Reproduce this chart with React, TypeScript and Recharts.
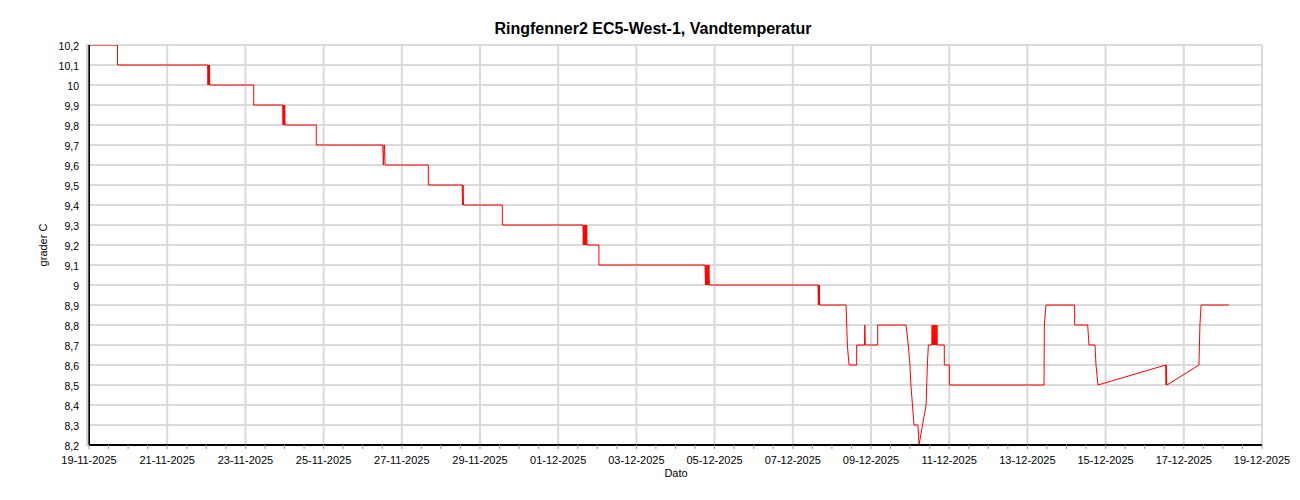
import { LineChart, Line, XAxis, YAxis, CartesianGrid } from 'recharts';

// hours after 19-11-2025 00:00
const hours = [
  0, 17.5, 17.5,
  72.9, 73.0, 73.2, 73.4, 73.6, 73.8, 74.0, 74.1,
  101.1, 101.1,
  118.9, 119.1, 119.3, 119.5, 119.7, 119.9, 120.1, 120.3,
  139.5, 139.5,
  180.3, 180.7, 181.1, 181.4, 181.7,
  208.3, 208.3,
  229.0, 229.3, 229.6, 229.9, 230.2,
  253.7, 253.7,
  303.2, 303.4, 303.7, 304.0, 304.3, 304.6, 304.9, 305.2, 305.5, 305.7,
  313.0, 313.0,
  378.1, 378.4, 378.7, 379.0, 379.3, 379.6, 379.9, 380.2, 380.5, 380.8, 381.2,
  447.5, 447.7, 447.9, 448.1, 448.3, 448.5, 448.7,
  464.7, 465.5, 466.5,
  471.2, 471.2, 476.0, 476.2, 476.5,
  484.1, 484.1,
  501.5, 502.9, 503.9, 504.5, 506.4, 508.8, 509.5,
  513.8, 514.2, 514.6, 515.2,
  517.3, 517.5, 517.8, 518.1, 518.4, 518.7, 519.0, 519.3, 519.6, 519.9, 520.2, 520.5, 520.7,
  525.0, 525.0, 528.1, 528.1,
  586.2, 586.4, 587.4,
  605.0, 605.0, 613.0, 613.8, 617.5, 618.1, 619.3,
  660.9, 661.1, 661.3, 661.5, 661.7,
  681.3, 681.9, 682.6, 699.6,
];

const temps = [
  10.2, 10.2, 10.1,
  10.1, 10.0, 10.1, 10.0, 10.1, 10.0, 10.1, 10.0,
  10.0, 9.9,
  9.9, 9.8, 9.9, 9.8, 9.9, 9.8, 9.9, 9.8,
  9.8, 9.7,
  9.7, 9.6, 9.7, 9.7, 9.6,
  9.6, 9.5,
  9.5, 9.4, 9.5, 9.4, 9.4,
  9.4, 9.3,
  9.3, 9.2, 9.3, 9.2, 9.3, 9.2, 9.3, 9.2, 9.3, 9.2,
  9.2, 9.1,
  9.1, 9.0, 9.1, 9.0, 9.1, 9.0, 9.1, 9.0, 9.1, 9.0, 9.0,
  9.0, 8.9, 9.0, 8.9, 9.0, 8.9, 8.9,
  8.9, 8.7, 8.6,
  8.6, 8.7, 8.7, 8.8, 8.7,
  8.7, 8.8,
  8.8, 8.7, 8.6, 8.5, 8.3, 8.3, 8.2,
  8.4, 8.5, 8.6, 8.7,
  8.7, 8.8, 8.7, 8.8, 8.7, 8.8, 8.7, 8.8, 8.7, 8.8, 8.7, 8.8, 8.7,
  8.7, 8.6, 8.6, 8.5,
  8.5, 8.8, 8.9,
  8.9, 8.8, 8.8, 8.7, 8.7, 8.6, 8.5,
  8.6, 8.5, 8.6, 8.5, 8.5,
  8.6, 8.8, 8.9, 8.9,
];

const xMajorTicks = [0, 48, 96, 144, 192, 240, 288, 336, 384, 432, 480, 528, 576, 624, 672, 720];
const xTickLabels = [
  '19-11-2025', '21-11-2025', '23-11-2025', '25-11-2025', '27-11-2025', '29-11-2025',
  '01-12-2025', '03-12-2025', '05-12-2025', '07-12-2025', '09-12-2025', '11-12-2025',
  '13-12-2025', '15-12-2025', '17-12-2025', '19-12-2025',
];
const yMajorTicks = [
  8.2, 8.3, 8.4, 8.5, 8.6, 8.7, 8.8, 8.9, 9.0, 9.1, 9.2,
  9.3, 9.4, 9.5, 9.6, 9.7, 9.8, 9.9, 10.0, 10.1, 10.2,
];

const data = hours.map((h, i) => ({ h, temp: temps[i] }));

// minor ticks: every 12 h on x, every 0.01 on y
const xMinorTicks = Array.from({ length: 61 }, (_, i) => i * 12);
const yMinorTicks = Array.from({ length: 201 }, (_, i) => (820 + i) / 100);

const FONT = '"Liberation Sans", Arial, sans-serif';

function XTick({ x, y, payload }: any) {
  const idx = xMajorTicks.indexOf(payload.value);
  if (idx < 0) return <g />;
  return (
    <text x={x} y={y} dy={13} textAnchor="middle" fontSize={11} fill="#000" fontFamily={FONT}>
      {xTickLabels[idx]}
    </text>
  );
}

function YTick({ x, y, payload }: any) {
  const n = Math.round(payload.value * 100);
  if (n % 10 !== 0) return <g />;
  const label = (n / 100).toString().replace('.', ',');
  return (
    <text x={x} y={y} dy={5} textAnchor="end" fontSize={10.5} fill="#000" fontFamily={FONT}>
      {label}
    </text>
  );
}

export default function App() {
  return (
    <div style={{ position: 'relative', width: 1300, height: 500, fontFamily: FONT, background: '#fff' }}>
      <style>{'body{margin:0}'}</style>
      <div style={{ position: 'absolute', top: 20, left: 3, width: 1300, textAlign: 'center', fontSize: 16, fontWeight: 'bold', color: '#000' }}>
        Ringfenner2 EC5-West-1, Vandtemperatur
      </div>
      <div style={{ position: 'absolute', left: 43, top: 245, transform: 'translate(-50%, -50%) rotate(-90deg)', fontSize: 11, whiteSpace: 'nowrap', color: '#000' }}>
        grader C
      </div>
      <div style={{ position: 'absolute', left: 676, top: 473, transform: 'translate(-50%, -50%)', fontSize: 11, color: '#000' }}>
        Dato
      </div>
      <LineChart width={1300} height={500} data={data} margin={{ top: 45, right: 38, bottom: 0, left: 0 }}>
        <CartesianGrid
          horizontalValues={yMajorTicks}
          verticalValues={xMajorTicks}
          stroke="#dadada"
          strokeWidth={2}
        />
        <XAxis
          dataKey="h"
          type="number"
          domain={[0, 720]}
          ticks={xMinorTicks}
          interval={0}
          height={55}
          tick={<XTick />}
          tickSize={4}
          tickMargin={2}
          axisLine={{ stroke: '#000', strokeWidth: 2 }}
          tickLine={{ stroke: '#999' }}
        />
        <XAxis
          xAxisId="top"
          orientation="top"
          dataKey="h"
          type="number"
          domain={[0, 720]}
          height={0}
          tick={false}
          tickLine={false}
          axisLine={{ stroke: '#808080', strokeWidth: 2 }}
        />
        <YAxis
          type="number"
          domain={[8.2, 10.2]}
          ticks={yMinorTicks}
          interval={0}
          width={89}
          tick={<YTick />}
          tickSize={3}
          tickMargin={7}
          axisLine={{ stroke: '#000', strokeWidth: 2 }}
          tickLine={{ stroke: '#aaa' }}
          allowDataOverflow
        />
        <YAxis
          yAxisId="right"
          orientation="right"
          type="number"
          domain={[8.2, 10.2]}
          width={0}
          tick={false}
          tickLine={false}
          axisLine={{ stroke: '#808080', strokeWidth: 2 }}
        />
        <Line
          type="linear"
          dataKey="temp"
          stroke="#ff0000"
          strokeWidth={1}
          dot={false}
          isAnimationActive={false}
        />
      </LineChart>
    </div>
  );
}
